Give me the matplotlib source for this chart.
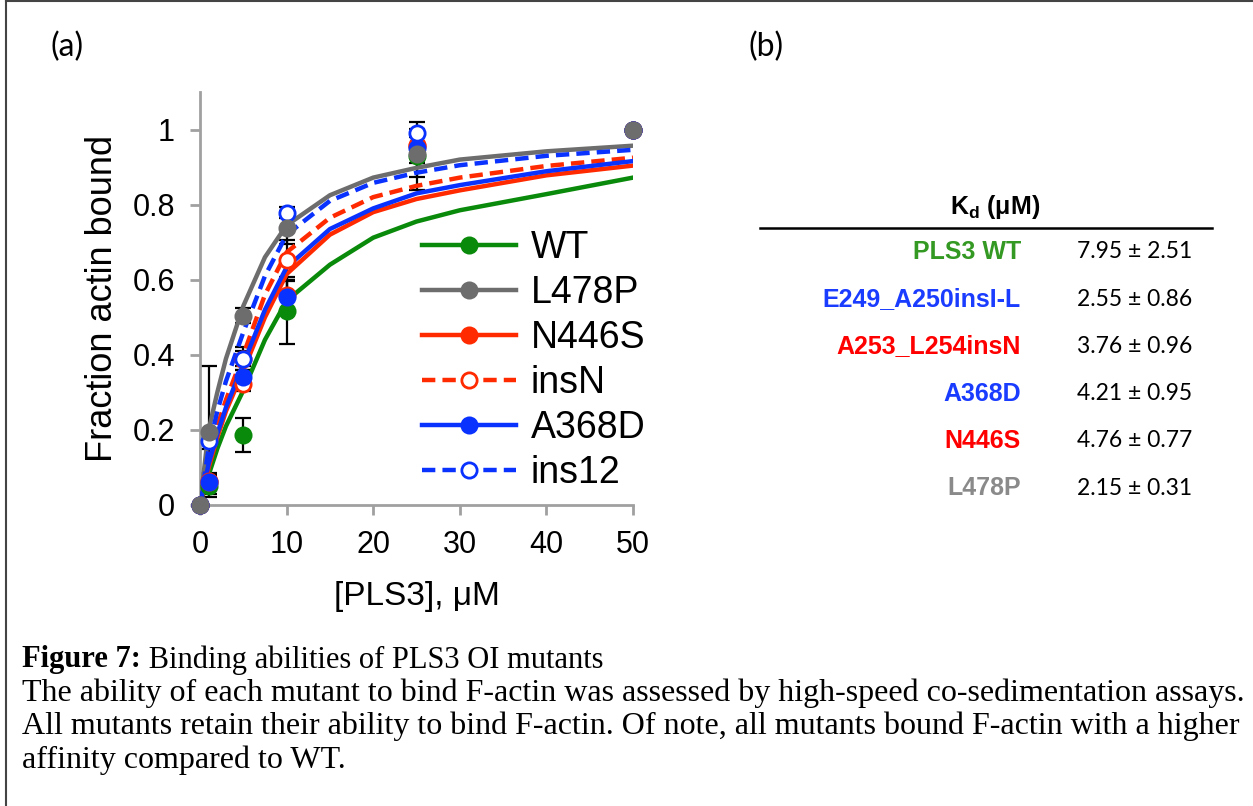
import numpy as np
import matplotlib
matplotlib.use("Agg")
import matplotlib.pyplot as plt
from matplotlib.lines import Line2D

plt.rcParams['font.family'] = ['Liberation Sans', 'DejaVu Sans']
plt.rcParams['mathtext.fontset'] = 'custom'
plt.rcParams['mathtext.bf'] = 'Liberation Sans:bold'
plt.rcParams['mathtext.rm'] = 'Liberation Sans'

# concentrations of PLS3 (uM)
conc = [0, 1, 5, 10, 25, 50]

# fraction actin bound (points)
wt = [0, 0.05, 0.186, 0.518, 0.93, 1.0]
wt_err = [0, 0.02, 0.045, 0.088, 0.09, 0]
l478p = [0, 0.195, 0.504, 0.739, 0.934, 1.0]
l478p_err = [0, 0.175, 0.02, 0.045, 0.06, 0]
n446s = [0, 0.065, 0.39, 0.56, 0.96, 1.0]
n446s_err = [0, 0.02, 0.03, 0.04, 0.03, 0]
insn = [0, 0.06, 0.323, 0.652, 0.955, 1.0]
insn_err = [0, 0.02, 0.02, 0.055, 0.03, 0]
a368d = [0, 0.062, 0.34, 0.553, 0.95, 1.0]
a368d_err = [0, 0.02, 0.02, 0.045, 0.04, 0]
ins12 = [0, 0.17, 0.39, 0.779, 0.991, 1.0]
ins12_err = [0, 0.02, 0.02, 0.015, 0.01, 0]

# fitted curves
fit_x = [0, 1, 2, 3, 5, 7.5, 10, 15, 20, 25, 30, 40, 50]
wt_fit = [0, 0.08, 0.15, 0.21, 0.305, 0.44, 0.544, 0.64, 0.712, 0.755, 0.785, 0.828, 0.872]
l478p_fit = [0, 0.20, 0.30, 0.39, 0.53, 0.66, 0.745, 0.825, 0.872, 0.898, 0.92, 0.942, 0.957]
n446s_fit = [0, 0.10, 0.18, 0.25, 0.358, 0.50, 0.615, 0.72, 0.78, 0.815, 0.838, 0.878, 0.904]
insn_fit = [0, 0.12, 0.21, 0.28, 0.40, 0.56, 0.673, 0.765, 0.82, 0.85, 0.872, 0.903, 0.925]
a368d_fit = [0, 0.11, 0.19, 0.26, 0.376, 0.52, 0.633, 0.735, 0.79, 0.83, 0.852, 0.889, 0.916]
ins12_fit = [0, 0.15, 0.25, 0.33, 0.46, 0.61, 0.72, 0.81, 0.858, 0.885, 0.905, 0.93, 0.946]

# table (b)
names = ['PLS3 WT', 'E249_A250insI-L', 'A253_L254insN', 'A368D', 'N446S', 'L478P']
name_colors = ['#339922', '#1a3cff', '#ff0000', '#1a3cff', '#ff0000', '#8a8a8a']
kd = [7.95, 2.55, 3.76, 4.21, 4.76, 2.15]
kd_err = [2.51, 0.86, 0.96, 0.95, 0.77, 0.31]

# label, points, err, fit, colour, dashed, open marker
series = [
    ('WT', wt, wt_err, wt_fit, '#0a8a0a', False, False),
    ('L478P', l478p, l478p_err, l478p_fit, '#6d6d6d', False, False),
    ('N446S', n446s, n446s_err, n446s_fit, '#ff2a00', False, False),
    ('insN', insn, insn_err, insn_fit, '#ff2a00', True, True),
    ('A368D', a368d, a368d_err, a368d_fit, '#0a32ff', False, False),
    ('ins12', ins12, ins12_err, ins12_fit, '#0a32ff', True, True),
]

W, H = 1253, 806
fig = plt.figure(figsize=(W / 100, H / 100), dpi=100)

def fx(px):
    return px / W

def fy(py):
    return 1 - py / H

# page border (left and top)
fig.add_artist(Line2D([fx(6), fx(6)], [0, fy(1)], color='#444444', lw=1.5))
fig.add_artist(Line2D([fx(6), 1], [fy(1), fy(1)], color='#444444', lw=1.5))

ax = fig.add_axes([fx(200), fy(505), fx(633) - fx(200), fy(92) - fy(505)])

handles = []
for label, y, err, fit, col, dashed, hollow in series:
    ls = (0, (3, 1.6)) if dashed else '-'
    top = label == 'L478P'
    ax.plot(fit_x, fit, color=col, lw=3.2, ls=ls, zorder=3)
    ax.errorbar(conc, y, yerr=err, fmt='none', ecolor='black', elinewidth=1.6,
                capsize=6, capthick=1.6, zorder=2, clip_on=False)
    fc = 'white' if hollow else col
    ax.plot(conc, y, 'o', ms=11, mfc=fc, mec=col, mew=2, ls='none',
            zorder=5 if top else 4, clip_on=False)
    handles.append(Line2D([], [], color=col, lw=3.2, ls=ls, marker='o', ms=11,
                          mfc=fc, mec=col, mew=2))

ax.set_xlim(0, 50)
ax.set_ylim(0, 1.1)
ax.set_xticks([0, 10, 20, 30, 40, 50])
ax.set_yticks([0, 0.2, 0.4, 0.6, 0.8, 1.0])
ax.set_yticklabels(['0', '0.2', '0.4', '0.6', '0.8', '1'])
for s in ['top', 'right']:
    ax.spines[s].set_visible(False)
for s in ['left', 'bottom']:
    ax.spines[s].set_color('#a0a0a0')
    ax.spines[s].set_linewidth(2)
ax.tick_params(colors='#a0a0a0', labelcolor='black', labelsize=22, length=7,
               width=2, pad=11)
ax.set_xlabel('[PLS3], μM', fontsize=24, labelpad=15)
ax.set_ylabel('Fraction actin bound', fontsize=26, labelpad=9)

ax.legend(handles, [s[0] for s in series], loc='upper left',
          bbox_to_anchor=(0.513, 0.665), frameon=False, fontsize=27,
          handlelength=2.5, handletextpad=0.4, labelspacing=0.24,
          borderpad=0, borderaxespad=0)

# panel letters
fig.text(fx(50), fy(47), '(a)', fontsize=23, family='Lato', va='center')
fig.text(fx(748), fy(47), '(b)', fontsize=23, family='Lato', va='center')

# Kd table
fig.text(fx(995), fy(207), r'$\mathbf{K_d}$ (μM)', fontsize=18,
         fontweight='bold', ha='center', va='center')
fig.add_artist(Line2D([fx(760), fx(1212)], [fy(228), fy(228)], color='black',
                      lw=1.8))
for i, (nm, c, k, e) in enumerate(zip(names, name_colors, kd, kd_err)):
    yy = fy(252 + 47.2 * i)
    fig.text(fx(1021), yy, nm, color=c, fontsize=18, fontweight='bold',
             ha='right', va='center')
    fig.text(fx(1077), yy, f'{k:.2f} ± {e:.2f}', fontsize=16.5, family='Lato',
             ha='left', va='center')

# caption
cap = dict(family='Liberation Serif', fontsize=22, va='center')
t1 = fig.text(fx(22), fy(660), 'Figure 7:', fontweight='bold', **cap)
fig.add_artist(matplotlib.text.Annotation(
    ' Binding abilities of PLS3 OI mutants', xy=(1, 0.5), xycoords=t1, **cap))
lines = ['The ability of each mutant to bind F-actin was assessed by high-speed co-sedimentation assays.',
         'All mutants retain their ability to bind F-actin. Of note, all mutants bound F-actin with a higher',
         'affinity compared to WT.']
cap['fontsize'] = 23
for i, ln in enumerate(lines):
    fig.text(fx(22), fy(693 + 33.5 * i), ln, **cap)

fig.savefig('out.png', dpi=100)
